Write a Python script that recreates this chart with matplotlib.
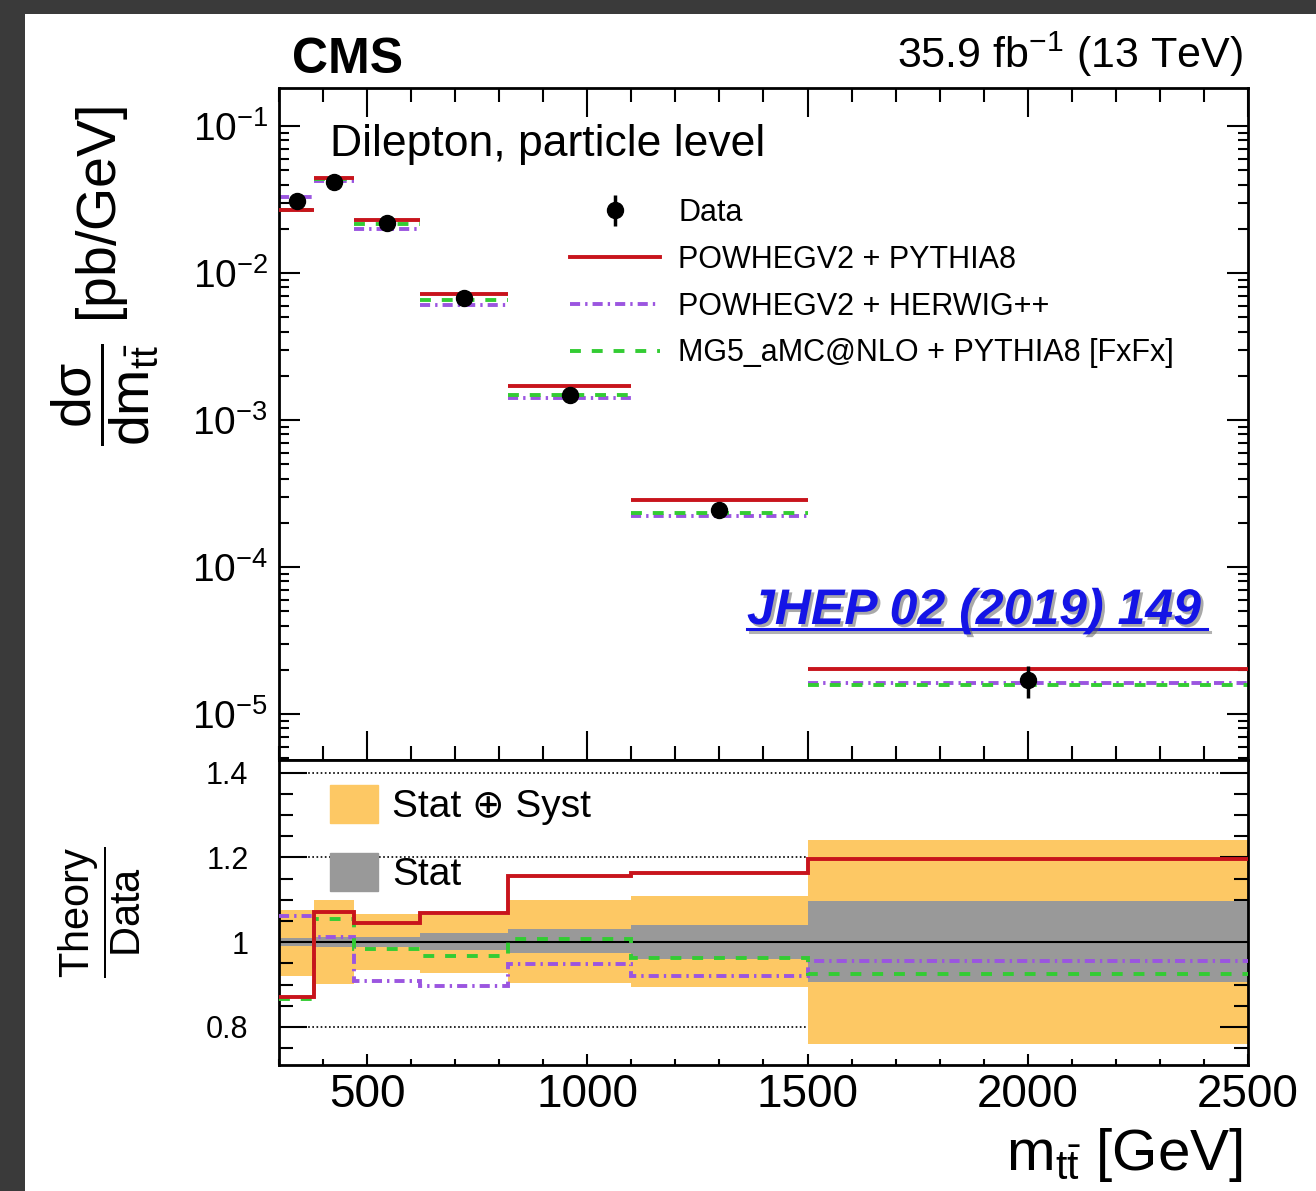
import numpy as np
import matplotlib.pyplot as plt
import matplotlib.patheffects as pe
from matplotlib.lines import Line2D
from matplotlib.patches import Patch, Rectangle
from matplotlib.ticker import MultipleLocator, LogLocator, FixedLocator, NullFormatter

plt.rcParams['font.family'] = ['Liberation Sans', 'DejaVu Sans']
plt.rcParams['mathtext.fontset'] = 'custom'
plt.rcParams['mathtext.rm'] = 'Liberation Sans'
plt.rcParams['mathtext.it'] = 'Liberation Sans:italic'
plt.rcParams['mathtext.bf'] = 'Liberation Sans:bold'

# bin edges in m_ttbar (GeV)
edges = [300, 380, 470, 620, 820, 1100, 1500, 2500]
# measured differential cross section (pb/GeV)
data = [0.0309, 0.0416, 0.0219, 0.00676, 0.00148, 2.44e-4, 1.70e-5]
# theory / data
ratio_pythia = [0.870, 1.071, 1.045, 1.069, 1.155, 1.163, 1.196]
ratio_herwig = [1.061, 1.011, 0.908, 0.897, 0.948, 0.919, 0.955]
ratio_mg5 = [0.866, 1.054, 0.983, 0.968, 1.008, 0.962, 0.925]
# uncertainty bands (relative to data)
tot_up = [1.076, 1.100, 1.066, 1.063, 1.100, 1.108, 1.240]
tot_down = [0.920, 0.901, 0.935, 0.927, 0.903, 0.894, 0.760]
stat_up = [1.010, 1.012, 1.012, 1.022, 1.031, 1.041, 1.096]
stat_down = [0.990, 0.988, 0.988, 0.982, 0.975, 0.961, 0.907]

labels = ['Data', 'POWHEGV2 + PYTHIA8', 'POWHEGV2 + HERWIG++',
          'MG5_aMC@NLO + PYTHIA8 [FxFx]']

red = '#c8141c'
purple = '#9b55e0'
green = '#33cc33'
orange = '#fdc864'
gray = '#999999'
ls_purple = (0, (2.6, 1.3, 0.6, 1.3))
ls_green = (0, (2.8, 2.8))

data = np.array(data)
lefts = np.array(edges[:-1])
rights = np.array(edges[1:])
centers = (lefts + rights) / 2
pythia = data * np.array(ratio_pythia)
herwig = data * np.array(ratio_herwig)
mg5 = data * np.array(ratio_mg5)
err_lo = data * (1 - np.array(tot_down))
err_hi = data * (np.array(tot_up) - 1)

W, H = 1316, 1191
fig = plt.figure(figsize=(W / 100, H / 100), dpi=100)
fig.patch.set_facecolor('#3a3a3a')
fig.add_artist(Rectangle((25 / W, 0), 1 - 25 / W, 1 - 14 / H, transform=fig.transFigure,
                         facecolor='white', edgecolor='none', zorder=0))

ax1 = fig.add_axes([279 / W, 1 - 760 / H, 969 / W, 672 / H])
ax2 = fig.add_axes([279 / W, 1 - 1065 / H, 969 / W, 305 / H])

# ---- upper panel
lw = 2.8
ax1.hlines(pythia, lefts, rights, color=red, lw=lw, zorder=3)
ax1.hlines(herwig, lefts, rights, color=purple, lw=lw, linestyles=[ls_purple], zorder=2)
ax1.hlines(mg5, lefts, rights, color=green, lw=lw, linestyles=[ls_green], zorder=2)
eb = ax1.errorbar(centers, data, yerr=[err_lo, err_hi], fmt='o', color='k', ms=11.5,
                  elinewidth=2.5, capsize=0, zorder=5)

ax1.set_yscale('log')
ax1.set_xlim(300, 2500)
ax1.set_ylim(4.87e-6, 0.1815)
ax1.xaxis.set_major_locator(MultipleLocator(500))
ax1.xaxis.set_minor_locator(MultipleLocator(100))
ax1.yaxis.set_major_locator(LogLocator(base=10, numticks=10))
ax1.yaxis.set_minor_locator(LogLocator(base=10, subs=np.arange(2, 10), numticks=20))
ax1.yaxis.set_minor_formatter(NullFormatter())
ax1.tick_params(which='both', direction='in', top=True, right=True, labelbottom=False,
                width=1.5, color='k')
ax1.tick_params(axis='x', which='major', length=21)
ax1.tick_params(axis='x', which='minor', length=10)
ax1.tick_params(axis='y', which='major', length=15, labelsize=28, pad=8)
ax1.tick_params(axis='y', which='minor', length=7.5)
for s in ax1.spines.values():
    s.set_linewidth(2)

handles = [eb,
           Line2D([], [], color=red, lw=lw),
           Line2D([], [], color=purple, lw=lw, ls=ls_purple),
           Line2D([], [], color=green, lw=lw, ls=ls_green)]
ax1.legend(handles, labels, loc='upper left', bbox_to_anchor=(291 / 969, 562 / 672),
           frameon=False, fontsize=22, handlelength=2.95, handletextpad=0.6,
           borderpad=0, borderaxespad=0, labelspacing=0.55)

ax1.text(51 / 969, (760 - 156) / 672, 'Dilepton, particle level', transform=ax1.transAxes,
         fontsize=32, ha='left', va='baseline')

# ---- ratio panel
for v in (0.8, 1.2, 1.4):
    ax2.axhline(v, color='k', ls=(0, (1, 1.5)), lw=1.2, zorder=0.5)
ax2.stairs(tot_up, edges, baseline=tot_down, fill=True, color=orange, zorder=1)
ax2.stairs(stat_up, edges, baseline=stat_down, fill=True, color=gray, zorder=2)
ax2.axhline(1.0, color='k', lw=1.5, zorder=3)
ax2.stairs(ratio_herwig, edges, baseline=None, color=purple, lw=lw, ls=ls_purple, zorder=4)
ax2.stairs(ratio_mg5, edges, baseline=None, color=green, lw=lw, ls=ls_green, zorder=4)
ax2.stairs(ratio_pythia, edges, baseline=None, color=red, lw=lw, zorder=5)

ax2.set_xlim(300, 2500)
ax2.set_ylim(0.71, 1.43)
ax2.xaxis.set_major_locator(MultipleLocator(500))
ax2.xaxis.set_minor_locator(MultipleLocator(100))
ax2.yaxis.set_major_locator(FixedLocator([0.8, 1.0, 1.2, 1.4]))
ax2.yaxis.set_minor_locator(MultipleLocator(0.05))
ax2.set_yticklabels(['0.8', '1', '1.2', '1.4'])
ax2.tick_params(which='both', direction='in', top=False, right=True, width=1.5, color='k')
ax2.tick_params(axis='x', which='major', length=8, labelsize=33, pad=6)
ax2.tick_params(axis='x', which='minor', length=4)
ax2.tick_params(axis='y', which='major', length=20, labelsize=22, pad=22)
ax2.tick_params(axis='y', which='minor', length=10)
for s in ax2.spines.values():
    s.set_linewidth(2)

ax2.legend([Patch(color=orange), Patch(color=gray)], ['Stat \u2295 Syst', 'Stat'],
           loc='upper left', bbox_to_anchor=(51 / 969, 280 / 305), frameon=False,
           fontsize=28, handlelength=1.23, handleheight=1.13, handletextpad=0.36,
           borderpad=0, borderaxespad=0, labelspacing=0.72)

# ---- titles and axis labels
fig.text(292 / W, 1 - 73 / H, 'CMS', fontsize=36, fontweight='bold', ha='left', va='baseline')
fig.text(1243 / W, 1 - 68 / H, '35.9 fb$^{-1}$ (13 TeV)', fontsize=31, ha='right',
         va='baseline')
fig.text(105 / W, 1 - 276 / H,
         r'$\dfrac{\mathrm{d\sigma}}{\mathrm{dm}_{\mathrm{t\bar{t}}}}$ [pb/GeV]',
         rotation=90, fontsize=40, ha='center', va='center')
fig.text(100 / W, 1 - 912 / H, r'$\dfrac{\mathrm{Theory}}{\mathrm{Data}}$',
         rotation=90, fontsize=30, ha='center', va='center')
fig.text(1243 / W, 1 - 1170 / H, r'm$_{\mathrm{t\bar{t}}}$ [GeV]', fontsize=42,
         ha='right', va='baseline')

# ---- journal reference link
shadow = [pe.SimplePatchShadow(offset=(2, -2), shadow_rgbFace='#555555', alpha=0.5),
          pe.Normal()]
fig.text(747 / W, 1 - 624 / H, 'JHEP 02 (2019) 149', fontsize=36, style='italic',
         fontweight='bold', color='#1414e6', ha='left', va='baseline',
         path_effects=shadow)
fig.add_artist(Line2D([747 / W, 1207 / W], [1 - 629 / H, 1 - 629 / H], color='#1414e6',
                      lw=2.2, transform=fig.transFigure,
                      path_effects=[pe.SimpleLineShadow(offset=(2, -2)), pe.Normal()]))

fig.savefig('out.png', dpi=100, facecolor=fig.get_facecolor())
